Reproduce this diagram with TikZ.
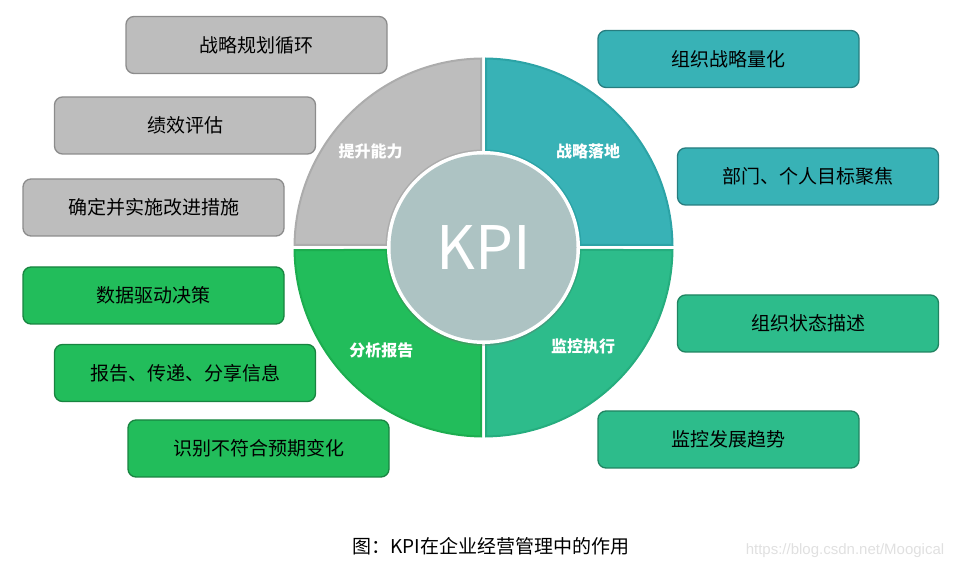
\documentclass[tikz,border=0pt]{standalone}
\usepackage{fontspec}
\setmainfont{Noto Sans CJK SC}
\newfontfamily\wmfont{Liberation Sans}
\usepackage{tikz}
\usetikzlibrary{shadows}
\usepackage{xcolor}

\definecolor{qgrey}{HTML}{BDBDBD}
\definecolor{qgreyd}{HTML}{ACACAC}
\definecolor{qteal}{HTML}{38B2B6}
\definecolor{qteald}{HTML}{2CA3A6}
\definecolor{qmint}{HTML}{2DBC8B}
\definecolor{qmintd}{HTML}{25AD7E}
\definecolor{qgreen}{HTML}{22BD5B}
\definecolor{qgreend}{HTML}{1CAD4F}
\definecolor{kpifill}{HTML}{ADC3C3}

\begin{document}
\begin{tikzpicture}[
    x=1pt, y=1pt,
    font=\fontsize{19}{22}\selectfont,
    item/.style={draw, rounded corners=8pt, line width=1.3pt, align=center, minimum width=261pt, minimum height=57pt, inner sep=2pt},
    grey/.style={item, fill=qgrey, draw=black!45},
    teal/.style={item, fill=qteal, draw=qteal!70!black},
    mint/.style={item, fill=qmint, draw=qmint!70!black},
    green/.style={item, fill=qgreen, draw=qgreen!70!black},
    qlabel/.style={text=white, font=\fontsize{16}{18}\selectfont\bfseries},
  ]
    \useasboundingbox (0,0) rectangle (958,570);
    \coordinate (c) at (483.5,322.5);

    % four quarters of the ring
    \begin{scope}[shift={(c)}]
      \foreach \a/\fc/\bc in {0/qteal/qteald, 90/qgrey/qgreyd, 180/qgreen/qgreend, 270/qmint/qmintd}
        \filldraw[fill=\fc, draw=\bc, line width=2pt]
          ({\a+0.76}:189) arc[start angle=\a+0.76, end angle=\a+89.24, radius=189pt]
          -- ({\a+88.52}:97) arc[start angle=\a+88.52, end angle=\a+1.48, radius=97pt] -- cycle;
    \end{scope}

    % centre
    \fill[white, drop shadow={opacity=0.3, shadow xshift=0pt, shadow yshift=-2pt}] (c) circle[radius=96.5pt];
    \node[circle, fill=kpifill, minimum size=186pt, inner sep=0pt, text=white, font=\fontsize{60}{60}\selectfont] (kpi) at (c) {KPI};

    \node[qlabel] (lup) at (370.7,418.3) {提升能力};
    \node[qlabel] (lland) at (588,418.3) {战略落地};
    \node[qlabel] (lana) at (381.3,220) {分析报告};
    \node[qlabel] (lmon) at (583,223.3) {监控执行};

    % left boxes
    \node[grey] (cyc) at (256.5,525) {战略规划循环};
    \node[grey] (eval) at (185,444.5) {绩效评估};
    \node[grey] (impr) at (153.5,362.5) {确定并实施改进措施};
    \node[green] (data) at (153.5,274.5) {数据驱动决策};
    \node[green] (rep) at (185,197) {报告、传递、分享信息};
    \node[green] (dev) at (258.5,121.5) {识别不符合预期变化};

    % right boxes
    \node[teal] (quant) at (728.5,511) {组织战略量化};
    \node[teal] (focus) at (808,393.5) {部门、个人目标聚焦};
    \node[mint] (state) at (808,246.5) {组织状态描述};
    \node[mint] (trend) at (728.5,130.5) {监控发展趋势};

    \node[font=\fontsize{19}{21}\selectfont] (cap) at (491,24) {图：KPI在企业经营管理中的作用};
    \node[text=black!12, font=\wmfont\fontsize{15}{17}\selectfont] (wm) at (845,19) {https://blog.csdn.net/Moogical};
\end{tikzpicture}
\end{document}
